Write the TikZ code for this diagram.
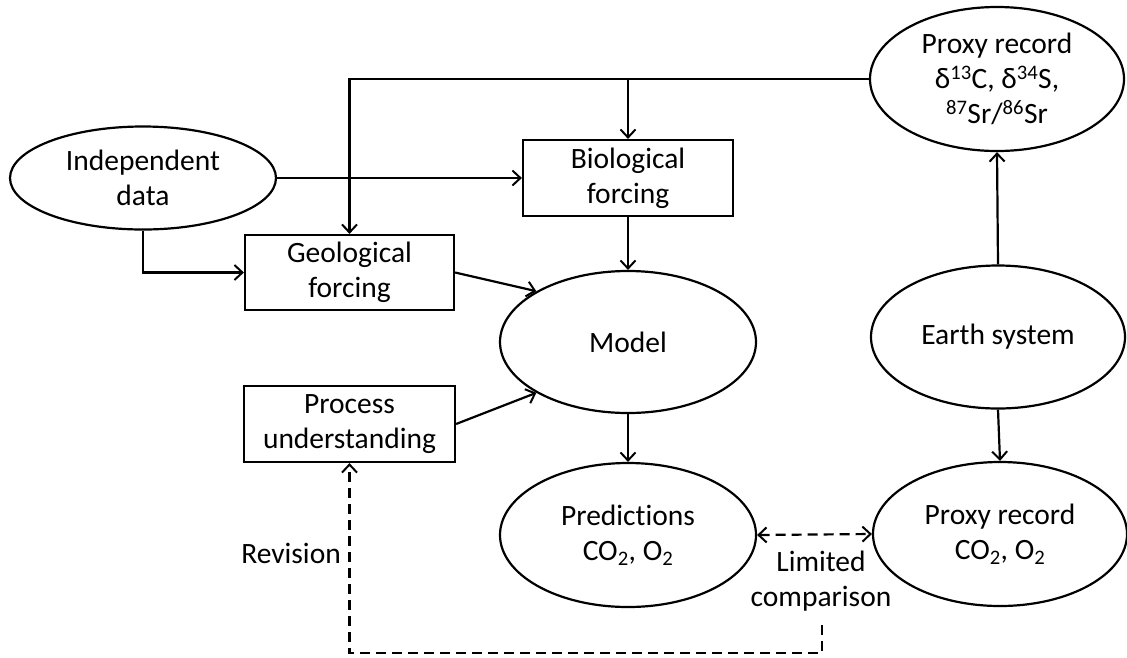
\documentclass[tikz,border=0pt]{standalone}
\usepackage{fontspec}
\setmainfont{Carlito}[RawFeature={-liga}]
\usetikzlibrary{arrows.meta,shapes.geometric}
\tikzset{
  every node/.style={font=\fontsize{29.5}{35}\selectfont, align=center, inner sep=0pt},
  ell/.style={draw, ellipse, line width=2.2pt},
  box/.style={draw, rectangle, line width=2.2pt},
  tip/.style={Straight Barb[length=8pt,width=15pt,line width=2pt]},
  conn/.style={line width=2.2pt, -{Straight Barb[length=8pt,width=15pt,line width=2pt]}},
  dconn/.style={line width=2.2pt, dash pattern=on 10pt off 6pt},
}
\begin{document}
\begin{tikzpicture}[x=1pt,y=-1pt]
\useasboundingbox (0,0) rectangle (1127,657);
\node[ell, minimum width=266pt, minimum height=103pt] (ind) at (143,178) {Independent\\data};
\node[box, minimum width=210pt, minimum height=76pt] (bio) at (628,178) {Biological\\forcing};
\node[box, minimum width=209pt, minimum height=75pt] (geo) at (349.5,272.5) {Geological\\forcing};
\node[box, minimum width=211pt, minimum height=76pt] (proc) at (349.5,424) {Process\\understanding};
\node[ell, minimum width=256pt, minimum height=142pt] (model) at (628,342) {Model};
\node[ell, minimum width=256pt, minimum height=144pt] (pred) at (628,535) {Predictions\\CO\textsubscript{2}, O\textsubscript{2}};
\node[ell, minimum width=254pt, minimum height=144pt] (pco) at (1000,534) {Proxy record\\CO\textsubscript{2}, O\textsubscript{2}};
\node[ell, minimum width=254pt, minimum height=143pt] (earth) at (998,337) {Earth system};
\node[ell, minimum width=254pt, minimum height=144pt] (ptop) at (997,79) {Proxy record\\δ\textsuperscript{13}C, δ\textsuperscript{34}S,\\\textsuperscript{87}Sr/\textsuperscript{86}Sr};
\node (lim) at (821,581) {Limited\\comparison};
\node[anchor=east] (rev) at (341,553) {Revision};
\coordinate (lcs) at (822,625);
\coordinate (lcb) at (822,653);
\coordinate (bj) at (bio.north |- ptop.west);

\draw[conn] (ind.east) -- (bio.west);
\draw[conn] (ind.south) |- (geo.west);
\draw[conn] (ptop.west) -| (geo.north);
\draw[conn] (bj) -- (bio.north);
\draw[conn] (geo.east) -- (model.151);
\draw[conn] (proc.east) -- (model.209);
\draw[conn] (bio.south) -- (model.north);
\draw[conn] (model.south) -- (pred.north);
\draw[conn] (earth.north) -- (ptop.south);
\draw[conn] (earth.south) -- (pco.north);
\draw[dconn, {Straight Barb[length=8pt,width=15pt,line width=2pt]}-{Straight Barb[length=8pt,width=15pt,line width=2pt]}] (pred.east) -- (pco.west);
\draw[dconn, -{Straight Barb[length=8pt,width=15pt,line width=2pt]}] (lcs) -- (lcb) -| (proc.south);
\end{tikzpicture}
\end{document}
